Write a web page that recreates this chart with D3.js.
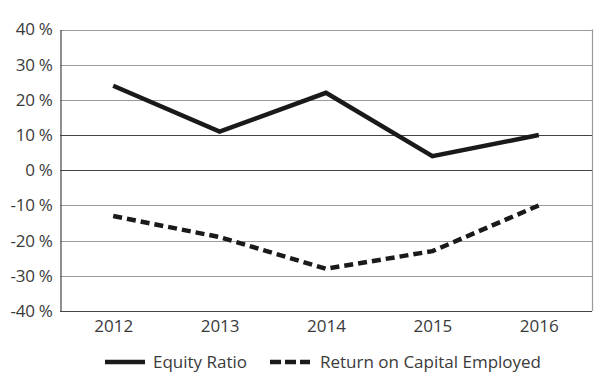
<!DOCTYPE html>
<html>
<head>
<meta charset="utf-8">
<script src="https://cdn.jsdelivr.net/npm/d3@7"></script>
<style>
  body { margin: 0; background: #fff; }
  text { font-family: "Open Sans", "Noto Sans", sans-serif; fill: #3a3a3a; }
</style>
</head>
<body>
<div id="chart"></div>
<script>
var w = 600;
var h = 388;

// data
var years = ["2012", "2013", "2014", "2015", "2016"];
var equityRatio = [24, 11, 22, 4, 10];
var returnOnCapital = [-13, -19, -28, -23, -10];
var yTicks = [-40, -30, -20, -10, 0, 10, 20, 30, 40];
var seriesNames = ["Equity Ratio", "Return on Capital Employed"];

var margin = {top: 29.5, right: 8, bottom: 77, left: 60};

var svg = d3.select("#chart")
    .append("svg")
    .attr("width", w)
    .attr("height", h);

var x = d3.scalePoint()
    .domain(years)
    .range([margin.left, w - margin.right])
    .padding(0.5);

var y = d3.scaleLinear()
    .domain([-40, 40])
    .range([h - margin.bottom, margin.top]);

//grid lines
svg.append("g")
    .selectAll("line")
    .data(yTicks)
    .enter()
    .append("line")
    .attr("x1", margin.left)
    .attr("x2", w - margin.right)
    .attr("y1", function(d) { return Math.round(y(d)) + 0.5; })
    .attr("y2", function(d) { return Math.round(y(d)) + 0.5; })
    .style("stroke", function(d) { return (d == 0 || d == 10) ? "#444" : "#9a9a9a"; })
    .style("stroke-width", 1.2);

//right border
svg.append("line")
    .attr("x1", w - margin.right + 0.5)
    .attr("x2", w - margin.right + 0.5)
    .attr("y1", y(40))
    .attr("y2", y(-40))
    .style("stroke", "#9a9a9a")
    .style("stroke-width", 1.2);

//y axis
var yAxis = d3.axisLeft(y)
    .tickValues(yTicks)
    .tickSize(0)
    .tickPadding(8)
    .tickFormat(function(d) { return d + " %"; });

var gy = svg.append("g")
    .attr("transform", "translate(" + (margin.left + 0.5) + ",0)")
    .call(yAxis);
gy.select(".domain").style("stroke", "#444").style("stroke-width", 1.2);
gy.selectAll("text")
    .style("font-size", "17px")
    .style("letter-spacing", "-0.3px")
    .attr("font-family", null);

//x axis
var xAxis = d3.axisBottom(x)
    .tickSize(0)
    .tickPadding(8);

var gx = svg.append("g")
    .attr("transform", "translate(0," + (Math.round(y(-40)) + 0.5) + ")")
    .call(xAxis);
gx.select(".domain")
    .attr("d", "M" + margin.left + ",0H" + (w - margin.right))
    .style("stroke", "#444")
    .style("stroke-width", 1.2);
gx.selectAll("text")
    .style("font-size", "17px")
    .attr("font-family", null);

//lines
var line = d3.line()
    .x(function(d, i) { return x(years[i]); })
    .y(function(d) { return y(d); });

svg.append("path")
    .datum(equityRatio)
    .attr("d", line)
    .style("fill", "none")
    .style("stroke", "#1a1a1a")
    .style("stroke-width", 4.5);

svg.append("path")
    .datum(returnOnCapital)
    .attr("d", line)
    .style("fill", "none")
    .style("stroke", "#1a1a1a")
    .style("stroke-width", 4.5)
    .style("stroke-dasharray", "9,5");

//legend
var legend = svg.append("g");
var legendX = [105, 270];
var textX = [153, 320];
var legendY = 362;

legend.selectAll("line")
    .data(seriesNames)
    .enter()
    .append("line")
    .attr("x1", function(d, i) { return legendX[i]; })
    .attr("x2", function(d, i) { return legendX[i] + 40; })
    .attr("y1", legendY)
    .attr("y2", legendY)
    .style("stroke", "#1a1a1a")
    .style("stroke-width", 4.5)
    .style("stroke-dasharray", function(d, i) { return i == 1 ? "11,4" : null; });

legend.selectAll("text")
    .data(seriesNames)
    .enter()
    .append("text")
    .attr("x", function(d, i) { return textX[i]; })
    .attr("y", legendY)
    .attr("dy", "0.35em")
    .style("font-size", "17px")
    .text(function(d) { return d; });
</script>
</body>
</html>
